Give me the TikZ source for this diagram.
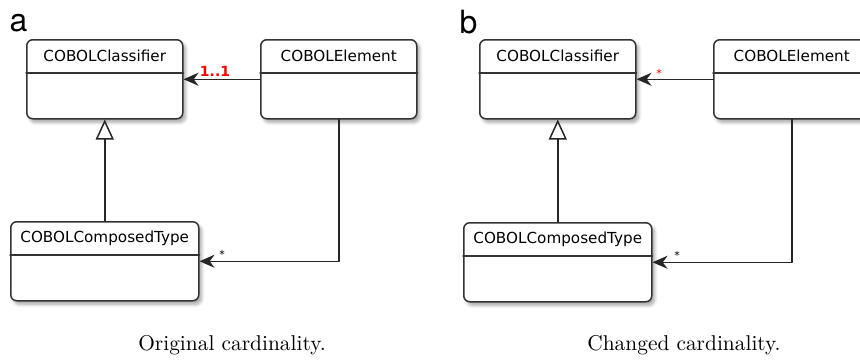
\documentclass[tikz,border=0pt]{standalone}
\usepackage{fontspec}
\newfontfamily\umlfont{DejaVu Sans}
\newfontfamily\tagfont{TeX Gyre Heros}
\usetikzlibrary{arrows.meta,shadows.blur,positioning}

\begin{document}
\begin{tikzpicture}[x=0.5pt, y=-0.5pt, line join=round, line cap=round,
	umlclass/.style={draw=black!80, line width=0.75pt, rounded corners=3pt, fill=white, anchor=north west, inner sep=0pt, minimum height=39.5pt,
		blur shadow={shadow xshift=1.4pt, shadow yshift=-1.8pt, shadow blur steps=6, shadow blur radius=1.6pt, shadow opacity=35}},
	umlname/.style={font=\umlfont\fontsize{7.6}{9}\selectfont, inner sep=0pt, minimum height=16.5pt, anchor=north},
	divider/.style={draw=black!80, line width=0.75pt},
	assoc/.style={-{Stealth[length=7.5pt, width=6.5pt, inset=2.4pt]}, line width=0.75pt, draw=black!85},
	gen/.style={-{Triangle[open, length=10pt, width=9pt]}, line width=0.75pt, draw=black!85},
	mult/.style={font=\umlfont\fontsize{5.5}{6}\selectfont, inner sep=0pt},
	multred/.style={font=\umlfont\bfseries\fontsize{7}{8}\selectfont, text=red, inner sep=0pt},
	caption/.style={font=\fontsize{10.7}{13}\selectfont, inner sep=0pt},
	tag/.style={font=\tagfont\fontsize{16}{18}\selectfont, inner sep=0pt}]
	\useasboundingbox (0,0) rectangle (860,359);
	\clip (0,0) rectangle (860,359);
	% panel a
	\node[tag] (tagA) at (18.5,23.5) {a};
	\node[umlclass, minimum width=78pt] (clsA) at (26,39) {};
	\node[umlname, below=0pt of clsA.north] (clsAname) {COBOLClassifier};
	\draw[divider] (clsA.west |- clsAname.south) -- (clsA.east |- clsAname.south);
	\node[umlclass, minimum width=78pt] (elemA) at (260,39) {};
	\node[umlname, below=0pt of elemA.north] (elemAname) {COBOLElement};
	\draw[divider] (elemA.west |- elemAname.south) -- (elemA.east |- elemAname.south);
	\node[umlclass, minimum width=94pt] (compA) at (10,221) {};
	\node[umlname, below=0pt of compA.north] (compAname) {COBOLComposedType};
	\draw[divider] (compA.west |- compAname.south) -- (compA.east |- compAname.south);
	\draw[assoc] (elemA.west) -- (clsA.east);
	\draw[gen] (compA.north) -- (clsA.south);
	\draw[assoc] (elemA.south) |- (compA.east);
	\node[multred] (multA) at (215,71) {1..1};
	\node[mult] (starA) at (222,254) {*};
	\node[caption] (capA) at (232,345) {Original cardinality.};
	% panel b
	\node[tag] (tagB) at (468.5,22) {b};
	\node[umlclass, minimum width=78pt] (clsB) at (479,39) {};
	\node[umlname, below=0pt of clsB.north] (clsBname) {COBOLClassifier};
	\draw[divider] (clsB.west |- clsBname.south) -- (clsB.east |- clsBname.south);
	\node[umlclass, minimum width=78pt] (elemB) at (713,39) {};
	\node[umlname, below=0pt of elemB.north] (elemBname) {COBOLElement};
	\draw[divider] (elemB.west |- elemBname.south) -- (elemB.east |- elemBname.south);
	\node[umlclass, minimum width=94pt] (compB) at (463,222) {};
	\node[umlname, below=0pt of compB.north] (compBname) {COBOLComposedType};
	\draw[divider] (compB.west |- compBname.south) -- (compB.east |- compBname.south);
	\draw[assoc] (elemB.west) -- (clsB.east);
	\draw[gen] (compB.north) -- (clsB.south);
	\draw[assoc] (elemB.south) |- (compB.east);
	\node[mult, text=red] (multB) at (659,73) {*};
	\node[mult] (starB) at (677,255) {*};
	\node[caption] (capB) at (684,345) {Changed cardinality.};
\end{tikzpicture}
\end{document}
